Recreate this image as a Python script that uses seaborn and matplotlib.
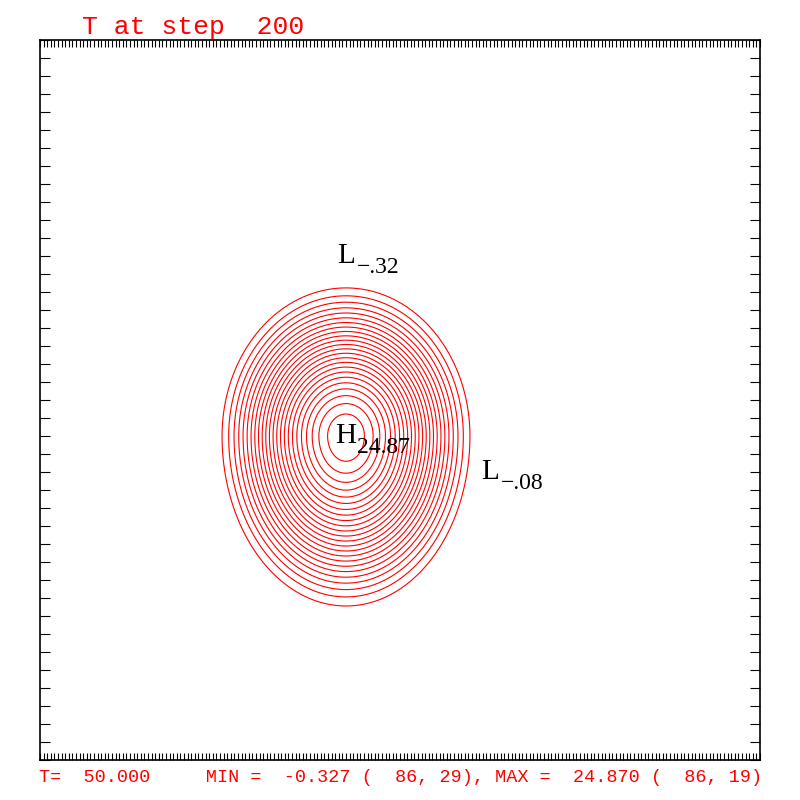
import numpy as np
import matplotlib
matplotlib.use("Agg")
import matplotlib.pyplot as plt
import seaborn as sns

# grid of the model run (ticks mark every grid point)
nx = 201
ny = 41

# smooth hill (grid units)
peak = 24.87
center_i = 86
center_j = 19
radius_x = 38.5
radius_up = 9.2
radius_down = 10.56

levels = list(range(1, 25))

# extrema labels: letter, value text, grid position
ext_letters = ["L", "H", "L"]
ext_values = ["\u2212.32", "24.87", "\u2212.08"]
ext_i = [86, 86, 126]
ext_j = [29, 19, 17]

title_text = "T at step  200"
footer_text = "T=  50.000     MIN =  -0.327 (  86, 29), MAX =  24.870 (  86, 19)"

sns.set_style("white")
plt.rcParams["font.family"] = ["DejaVu Sans"]

x = np.linspace(1, nx, 801)
y = np.linspace(1, ny, 401)
X, Y = np.meshgrid(x, y)
dx = (X - center_i) / radius_x
dy = Y - center_j
dy = np.where(dy > 0, dy / radius_up, dy / radius_down)
r = np.sqrt(dx**2 + dy**2)
T = np.where(r < 1, peak * (1 - np.clip(r, 0, 1) ** 2) ** 2, 0.0)

fig = plt.figure(figsize=(8, 8), dpi=100)
ax = fig.add_axes([0.05, 0.05, 0.9, 0.9])

ax.contour(X, Y, T, levels=levels, colors="#ff0000", linewidths=0.8)

ax.set_xlim(1, nx)
ax.set_ylim(1, ny)
ax.set_xticks(np.arange(1, nx + 1))
ax.set_yticks(np.arange(1, ny + 1))
ax.set_xticklabels([])
ax.set_yticklabels([])
ax.tick_params(axis="x", direction="in", length=5, width=0.8, color="black",
               top=True, bottom=True)
ax.tick_params(axis="y", direction="in", length=7.5, width=0.8, color="black",
               left=True, right=True)
for s in ax.spines.values():
    s.set_color("black")
    s.set_linewidth(1.2)

for letter, val, i, j in zip(ext_letters, ext_values, ext_i, ext_j):
    ax.text(i, j, letter, ha="center", va="center", fontsize=21,
            family="Liberation Serif", color="black")
    ax.annotate(val, xy=(i, j), xytext=(8, -12), textcoords="offset points",
                ha="left", va="baseline", fontsize=17,
                family="Liberation Serif", color="black")

fig.text(82 / 800, 1 - 34 / 800, title_text, color="#ff0000", fontsize=19,
         family="Liberation Mono", ha="left", va="baseline")
fig.text(39 / 800, 1 - 782 / 800, footer_text, color="#ff0000", fontsize=13.3,
         family="Liberation Mono", ha="left", va="baseline")

fig.savefig("out.png", dpi=100, facecolor="white")
